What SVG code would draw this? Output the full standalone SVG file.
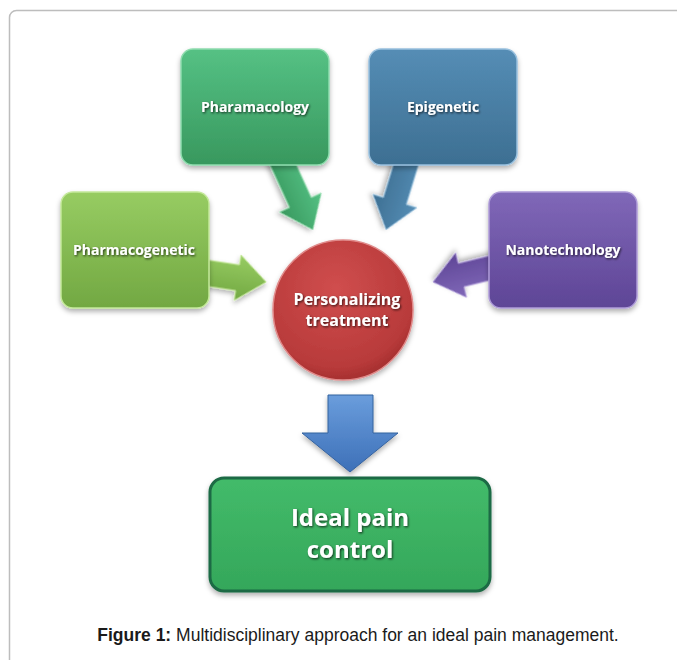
<svg xmlns="http://www.w3.org/2000/svg" width="677" height="660" viewBox="0 0 677 660">
  <defs>
    <linearGradient id="gGreen" x1="0" y1="0" x2="0" y2="1">
      <stop offset="0" stop-color="#55c184"/>
      <stop offset="1" stop-color="#38985e"/>
    </linearGradient>
    <linearGradient id="gBlue" x1="0" y1="0" x2="0" y2="1">
      <stop offset="0" stop-color="#558db5"/>
      <stop offset="1" stop-color="#3d6f92"/>
    </linearGradient>
    <linearGradient id="gLime" x1="0" y1="0" x2="0" y2="1">
      <stop offset="0" stop-color="#97cc62"/>
      <stop offset="1" stop-color="#72a842"/>
    </linearGradient>
    <linearGradient id="gPurple" x1="0" y1="0" x2="0" y2="1">
      <stop offset="0" stop-color="#8068b8"/>
      <stop offset="1" stop-color="#5e4596"/>
    </linearGradient>
    <linearGradient id="gDown" x1="0" y1="0" x2="0" y2="1">
      <stop offset="0" stop-color="#6a9ddc"/>
      <stop offset="1" stop-color="#3d70b8"/>
    </linearGradient>
    <linearGradient id="gIdeal" x1="0" y1="0" x2="0" y2="1">
      <stop offset="0" stop-color="#43bb6a"/>
      <stop offset="1" stop-color="#34a75a"/>
    </linearGradient>
    <radialGradient id="gRed" cx="0.45" cy="0.35" r="0.7">
      <stop offset="0" stop-color="#d04e4e"/>
      <stop offset="0.8" stop-color="#b83a3a"/>
      <stop offset="1" stop-color="#9c2a2a"/>
    </radialGradient>
    <filter id="shadow" x="-20%" y="-20%" width="140%" height="150%">
      <feDropShadow dx="0" dy="3" stdDeviation="2.5" flood-color="#000" flood-opacity="0.3"/>
    </filter>
    <filter id="tshadow" x="-10%" y="-30%" width="120%" height="160%">
      <feDropShadow dx="1" dy="1.2" stdDeviation="0.8" flood-color="#000" flood-opacity="0.7"/>
    </filter>
  </defs>
  <style>
    .box { stroke-width: 1.5; filter: url(#shadow); }
    .arrow { stroke-width: 1; filter: url(#shadow); }
    .lbl { font-family: "Open Sans", "Liberation Sans", sans-serif; font-weight: bold; font-size: 14px; fill: #ffffff; text-anchor: middle; filter: url(#tshadow); }
    .mid { font-size: 16px; }
    .big { font-size: 24px; }
    .cap { font-family: "Liberation Sans", Arial, sans-serif; font-size: 17.5px; fill: #1a1a1a; text-anchor: middle; }
  </style>

  <rect x="9.5" y="10.5" width="720" height="720" rx="7" fill="#ffffff" stroke="#bdbdbd" stroke-width="1.5"/>

  <g id="connectors">
    <path class="arrow" fill="url(#gGreen)" stroke="#9be0b4" transform="translate(280,158) rotate(65.4)" d="M0,-12 L49,-12 L49,-23 L79,0 L49,23 L49,12 L0,12 Z"/>
    <path class="arrow" fill="url(#gBlue)" stroke="#9cc4e0" transform="translate(408,158) rotate(107)" d="M0,-12 L45,-12 L45,-23 L75,0 L45,23 L45,12 L0,12 Z"/>
    <path class="arrow" fill="url(#gLime)" stroke="#c8ea9e" transform="translate(200,272) rotate(8.6)" d="M0,-13 L38,-13 L38,-23 L67,0 L38,23 L38,13 L0,13 Z"/>
    <path class="arrow" fill="url(#gPurple)" stroke="#b4a2dc" transform="translate(498,266) rotate(166.2)" d="M0,-12 L38,-12 L38,-23 L67,0 L38,23 L38,12 L0,12 Z"/>
    <path class="arrow" fill="url(#gDown)" stroke="#35629e" stroke-width="1.5" d="M328,395 L373,395 L373,433 L398,433 L350,472 L302,433 L328,433 Z"/>
  </g>

  <g id="pharamacology">
    <rect class="box" x="181" y="49" width="148" height="116" rx="12" fill="url(#gGreen)" stroke="#8fdcae"/>
    <text class="lbl" x="255" y="112">Pharamacology</text>
  </g>
  <g id="epigenetic">
    <rect class="box" x="369" y="49" width="148" height="116" rx="12" fill="url(#gBlue)" stroke="#98c0de"/>
    <text class="lbl" x="443" y="112">Epigenetic</text>
  </g>
  <g id="pharmacogenetic">
    <rect class="box" x="61" y="192" width="148" height="116" rx="12" fill="url(#gLime)" stroke="#c4e89a"/>
    <text class="lbl" x="134" y="255">Pharmacogenetic</text>
  </g>
  <g id="nanotechnology">
    <rect class="box" x="489" y="192" width="148" height="116" rx="12" fill="url(#gPurple)" stroke="#ae9cd8"/>
    <text class="lbl" x="563" y="255">Nanotechnology</text>
  </g>
  <g id="personalizing">
    <circle class="box" cx="343" cy="310" r="70" fill="url(#gRed)" stroke="#e08a8a"/>
    <text class="lbl mid" x="347" y="305">Personalizing</text>
    <text class="lbl mid" x="347" y="326">treatment</text>
  </g>
  <g id="ideal">
    <rect x="210" y="478" width="280" height="113" rx="14" fill="url(#gIdeal)" stroke="#1d6a44" stroke-width="3" filter="url(#shadow)"/>
    <text class="lbl big" x="350" y="526">Ideal pain</text>
    <text class="lbl big" x="350" y="558">control</text>
  </g>

  <text class="cap" x="358" y="641"><tspan font-weight="bold">Figure 1:</tspan> Multidisciplinary approach for an ideal pain management.</text>
</svg>
